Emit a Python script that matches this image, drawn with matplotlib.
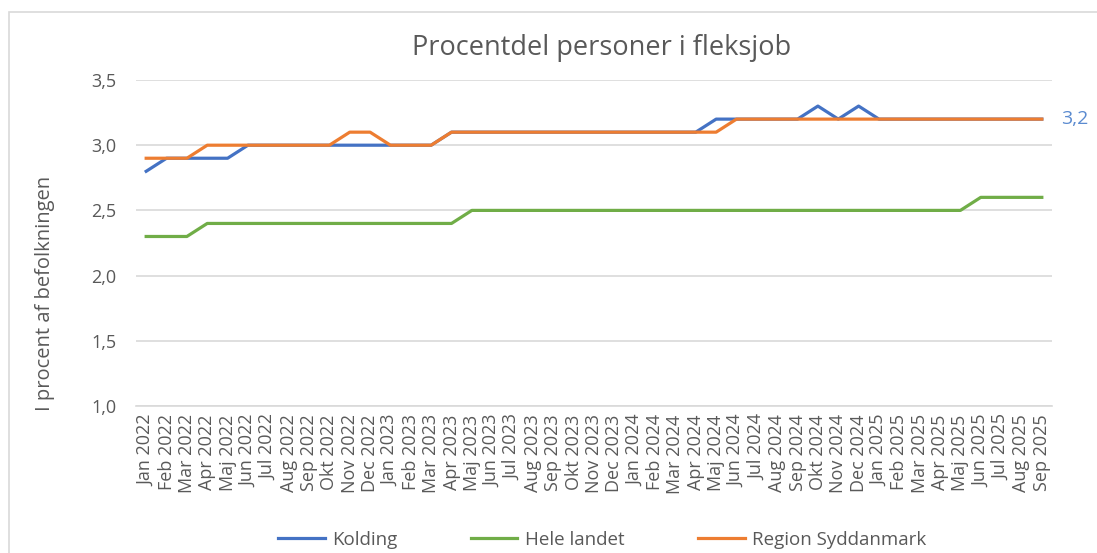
import matplotlib.pyplot as plt
import matplotlib.patches as mpatches

plt.rcParams['font.family'] = ['Open Sans', 'DejaVu Sans']

months = ['Jan', 'Feb', 'Mar', 'Apr', 'Maj', 'Jun', 'Jul', 'Aug', 'Sep', 'Okt', 'Nov', 'Dec']
labels = [f'{m} {y}' for y in (2022, 2023, 2024, 2025) for m in months][:45]

kolding = [2.8, 2.9, 2.9, 2.9, 2.9, 3.0, 3.0, 3.0, 3.0, 3.0, 3.0, 3.0,
           3.0, 3.0, 3.0, 3.1, 3.1, 3.1, 3.1, 3.1, 3.1, 3.1, 3.1, 3.1,
           3.1, 3.1, 3.1, 3.1, 3.2, 3.2, 3.2, 3.2, 3.2, 3.3, 3.2, 3.3,
           3.2, 3.2, 3.2, 3.2, 3.2, 3.2, 3.2, 3.2, 3.2]
hele_landet = [2.3, 2.3, 2.3, 2.4, 2.4, 2.4, 2.4, 2.4, 2.4, 2.4, 2.4, 2.4,
               2.4, 2.4, 2.4, 2.4, 2.5, 2.5, 2.5, 2.5, 2.5, 2.5, 2.5, 2.5,
               2.5, 2.5, 2.5, 2.5, 2.5, 2.5, 2.5, 2.5, 2.5, 2.5, 2.5, 2.5,
               2.5, 2.5, 2.5, 2.5, 2.5, 2.6, 2.6, 2.6, 2.6]
syddanmark = [2.9, 2.9, 2.9, 3.0, 3.0, 3.0, 3.0, 3.0, 3.0, 3.0, 3.1, 3.1,
              3.0, 3.0, 3.0, 3.1, 3.1, 3.1, 3.1, 3.1, 3.1, 3.1, 3.1, 3.1,
              3.1, 3.1, 3.1, 3.1, 3.1, 3.2, 3.2, 3.2, 3.2, 3.2, 3.2, 3.2,
              3.2, 3.2, 3.2, 3.2, 3.2, 3.2, 3.2, 3.2, 3.2]
yticks = [1.0, 1.5, 2.0, 2.5, 3.0, 3.5]

text_color = '#595959'
grid_color = '#D9D9D9'

fig = plt.figure(figsize=(10.97, 5.53), dpi=100)
ax = fig.add_axes([136 / 1097, 1 - 406 / 553, (1052 - 136) / 1097, (406 - 80) / 553])

# ramme om diagrammet
fig.patches.append(mpatches.Rectangle((9 / 1097, -0.1), 1.2, 1 - 12 / 553 + 0.1,
                                      transform=fig.transFigure, fill=False,
                                      edgecolor='#D9D9D9', linewidth=1.2))

x = list(range(len(labels)))
ax.plot(x, kolding, color='#4472C4', lw=2.3, label='Kolding')
ax.plot(x, hele_landet, color='#70AD47', lw=2.3, label='Hele landet')
ax.plot(x, syddanmark, color='#ED7D31', lw=2.3, label='Region Syddanmark')

ax.annotate(f'{kolding[-1]:.1f}'.replace('.', ','), xy=(x[-1], kolding[-1]),
            xytext=(14, 0), textcoords='offset points', ha='left', va='center',
            color='#5B8BD0', fontsize=14)

ax.set_xlim(-0.5, len(labels) - 0.5)
ax.set_ylim(1.0, 3.5)
ax.set_yticks(yticks)
ax.set_yticklabels([f'{v:.1f}'.replace('.', ',') for v in yticks])
ax.set_xticks(x)
ax.set_xticklabels(labels, rotation=90)
ax.tick_params(axis='both', length=0, colors=text_color, labelsize=13)
ax.tick_params(axis='y', pad=14)
ax.tick_params(axis='x', pad=6)

ax.grid(axis='y', color=grid_color, lw=1.2)
ax.set_axisbelow(True)
for side in ['top', 'right', 'left']:
    ax.spines[side].set_visible(False)
ax.spines['bottom'].set_color(grid_color)
ax.spines['bottom'].set_linewidth(1.2)

fig.text(602 / 1097, 1 - 48 / 553, 'Procentdel personer i fleksjob', ha='center', va='center',
         fontsize=19.5, color=text_color)
fig.text(45 / 1097, 1 - 293 / 553, 'I procent af befolkningen', rotation=90,
         ha='center', va='center', fontsize=14.5, color=text_color)

fig.legend(loc='center', bbox_to_anchor=(602 / 1097, 1 - 540 / 553), ncol=3,
           frameon=False, fontsize=13.5, handlelength=2.5, columnspacing=3.9,
           handletextpad=0.4, labelcolor=text_color)

fig.savefig('out.png', dpi=100)
